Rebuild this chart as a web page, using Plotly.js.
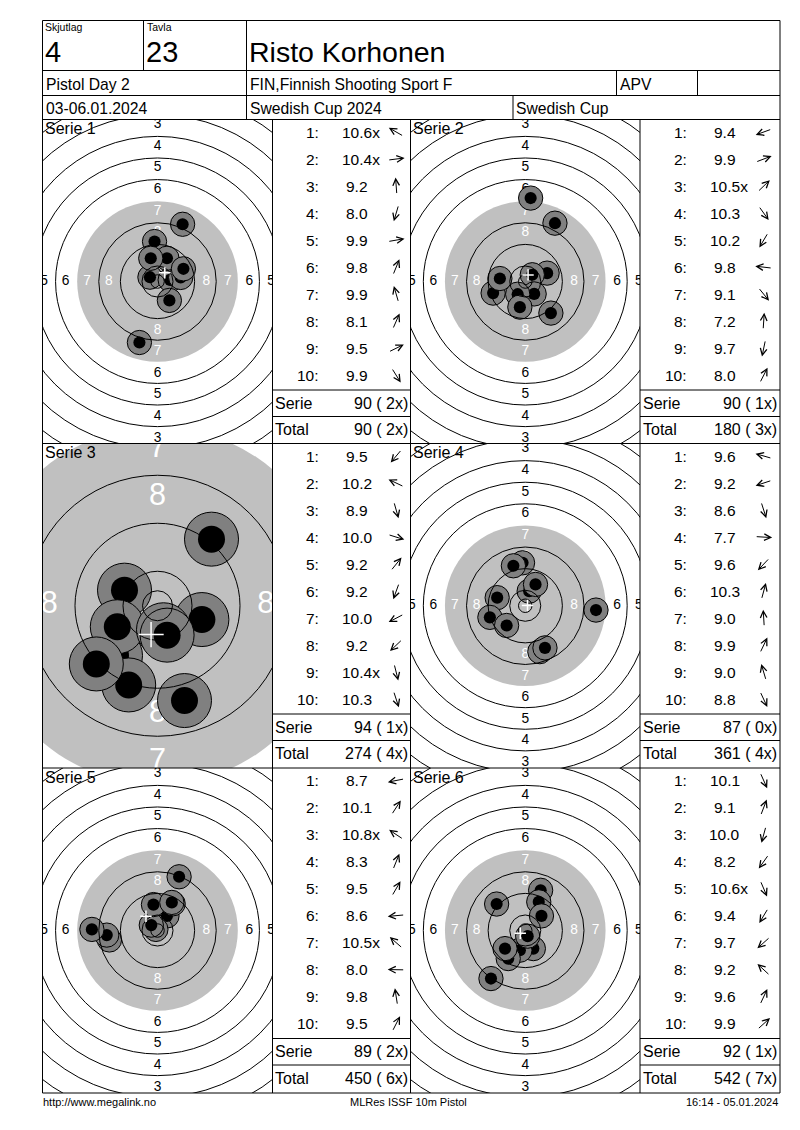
<!DOCTYPE html>
<html><head><meta charset="utf-8">
<script src="https://cdn.plot.ly/plotly-3.0.1.min.js"></script>
<style>html,body{margin:0;padding:0;background:#fff;}#chart{width:800px;height:1130px;}</style>
</head><body><div id="chart"></div>
<script>
// ---------- header texts ----------
const hdrLabels = ['Skjutlag', 'Tavla'];
const hdrValues = ['4', '23'];
const shooterName = 'Risto Korhonen';
const eventName = 'Pistol Day 2';
const clubName = 'FIN,Finnish Shooting Sport F';
const classCode = 'APV';
const dateText = '03-06.01.2024';
const competition = 'Swedish Cup 2024';
const cupName = 'Swedish Cup';
const footerTexts = ['http://www.megalink.no', 'MLRes ISSF 10m Pistol', '16:14 - 05.01.2024'];
const serieNames = ['Serie 1', 'Serie 2', 'Serie 3', 'Serie 4', 'Serie 5', 'Serie 6'];

// ---------- shot data (score, inner ten flag, position in mm from centre) ----------
const s1Scores = [10.6, 10.4, 9.2, 8.0, 9.9, 9.8, 9.9, 8.1, 9.5, 9.9];
const s1Inner  = [1, 1, 0, 0, 0, 0, 0, 0, 0, 0];
const s1X = [-2.8, 4.7, -1.1, -6.7, 8.6, 3.5, -2.5, 9.3, 9.6, 4.4];
const s1Y = [1.6, 0.6, 14.8, -22.6, 1.5, 8.6, 8.6, 21.2, 4.7, -7.0];

const s2Scores = [9.4, 9.9, 10.5, 10.3, 10.2, 9.8, 9.1, 7.2, 9.7, 8.0];
const s2Inner  = [0, 0, 1, 0, 0, 0, 0, 0, 0, 0];
const s2X = [-11.9, 8.1, 2.6, 3.3, -2.8, -9.4, 9.5, 2.0, -2.0, 11.0];
const s2Y = [-4.3, 3.1, 2.5, -4.6, -4.7, 1.1, -11.7, 30.9, -9.5, 21.6];

const s3Scores = [9.5, 10.2, 8.9, 10.0, 9.2, 9.2, 10.0, 9.2, 10.4, 10.3];
const s3Inner  = [0, 0, 0, 0, 0, 0, 0, 0, 1, 0];
const s3X = [-7.0, -5.5, 4.5, 7.4, 9.0, -4.8, -6.7, -10.2, 1.0, 1.6];
const s3Y = [-8.3, 2.6, -15.8, -2.3, 11.1, -13.2, -3.5, -9.7, -4.0, -4.9];

const s4Scores = [9.6, 9.2, 8.6, 7.7, 9.6, 10.3, 9.0, 9.9, 9.0, 8.8];
const s4Inner  = [0, 0, 0, 0, 0, 0, 0, 0, 0, 0];
const s4X = [-10.4, -13.1, 5.4, 26.2, -6.9, 1.45, -1.0, 3.8, -4.4, 7.3];
const s4Y = [3.0, -4.3, -17.0, -1.6, -7.3, 5.4, 15.9, 7.9, 14.8, -15.6];

const s5Scores = [8.7, 10.1, 10.8, 8.3, 9.5, 8.6, 10.5, 8.0, 9.8, 9.5];
const s5Inner  = [0, 0, 1, 0, 0, 0, 1, 0, 0, 0];
const s5X = [-17.8, 3.5, -0.6, 8.0, 5.8, -18.8, -2.3, -24.3, -1.5, 5.3];
const s5Y = [-3.5, 5.4, 0.4, 19.9, 9.9, -1.7, 2.0, 0.4, 9.6, 10.4];

const s6Scores = [10.1, 9.1, 10.0, 8.2, 10.6, 9.4, 9.7, 9.2, 9.6, 9.9];
const s6Inner  = [0, 0, 0, 0, 1, 0, 0, 0, 0, 0];
const s6X = [3.0, 5.7, -2.0, -12.7, 0.9, -6.3, -7.5, -10.6, 5.0, 6.0];
const s6Y = [-6.7, 14.9, -7.3, -17.8, -2.1, -10.4, -6.7, 9.8, 10.6, 5.4];

const seriesScores = [s1Scores, s2Scores, s3Scores, s4Scores, s5Scores, s6Scores];
const seriesInner = [s1Inner, s2Inner, s3Inner, s4Inner, s5Inner, s6Inner];
const seriesX = [s1X, s2X, s3X, s4X, s5X, s6X];
const seriesY = [s1Y, s2Y, s3Y, s4Y, s5Y, s6Y];

// ---------- target geometry (ISSF 10m air pistol, mm) ----------
const ringOuter = [77.75, 69.75, 61.75, 53.75, 45.75, 37.75, 29.75, 21.75, 13.75, 5.75];
const innerTen = 2.5;
const blackR = 29.75;

// ---------- page layout (px) ----------
const W = 800, H = 1130;
const FONT = '"Liberation Sans", Arial, sans-serif';
const PX = x => x / W, PY = y => 1 - y / H;
const rowTop = [119.5, 443.5, 768];
const rowBot = [443.5, 768, 1093];
const panelX = [[42.5, 272.5], [410.5, 640]];
const tableX = [[272.5, 410.5], [640, 780]];
const pxPerMm = [2.7, 2.7, 6.0, 2.7, 2.7, 2.7];

const data = [], shapes = [], annotations = [];
const layout = {
  width: W, height: H, margin: {l: 0, r: 0, t: 0, b: 0}, autosize: false,
  paper_bgcolor: '#fff', plot_bgcolor: '#fff', showlegend: false, hovermode: false,
  font: {family: FONT, color: '#000'}
};

function hline(y, x0, x1) { shapes.push({type: 'line', xref: 'paper', yref: 'paper', x0: PX(x0), x1: PX(x1), y0: PY(y), y1: PY(y), line: {color: '#000', width: 1}, layer: 'above'}); }
function vline(x, y0, y1) { shapes.push({type: 'line', xref: 'paper', yref: 'paper', x0: PX(x), x1: PX(x), y0: PY(y0), y1: PY(y1), line: {color: '#000', width: 1}, layer: 'above'}); }
function txt(t, x, y, size, xanchor, extra) {
  annotations.push(Object.assign({text: t, x: PX(x), y: PY(y), xref: 'paper', yref: 'paper', showarrow: false,
    xanchor: xanchor || 'left', yanchor: 'middle', font: {family: FONT, size: size, color: '#000'}, borderpad: 0}, extra || {}));
}

// ---------- frame ----------
[20.5, 70.5, 95.5, 119.5, 443.5, 768, 1093].forEach(y => hline(y, 42.5, 780));
vline(42.5, 20.5, 1093); vline(780, 20.5, 1093);
vline(143.5, 20.5, 70.5); vline(246.5, 20.5, 119.5);
vline(616.5, 70.5, 95.5); vline(697.5, 70.5, 95.5); vline(513, 95.5, 119.5);
vline(272.5, 119.5, 1093); vline(410.5, 119.5, 1093); vline(640, 119.5, 1093);

// ---------- header ----------
txt(hdrLabels[0], 44, 27.5, 10.5); txt(hdrLabels[1], 145.5, 27.5, 10.5);
txt(hdrValues[0], 43.5, 52, 29); txt(hdrValues[1], 145, 52, 29);
txt(shooterName, 248, 52, 28.5);
txt(eventName, 44.5, 84, 15.7); txt(clubName, 248.5, 84, 15.7); txt(classCode, 618.5, 84, 15.7);
txt(dateText, 44.5, 108.5, 15.7); txt(competition, 248.5, 108.5, 15.7); txt(cupName, 515, 108.5, 15.7);

// ---------- footer ----------
txt(footerTexts[0], 42, 1102, 11); txt(footerTexts[1], 408, 1102, 11, 'center'); txt(footerTexts[2], 779, 1102, 11, 'right');

// ---------- series ----------
let runSum = 0, runX = 0;
for (let k = 0; k < 6; k++) {
  const row = Math.floor(k / 2), col = k % 2;
  const s = pxPerMm[k];
  const [x0, x1] = panelX[col];
  const yt = rowTop[row], yb = rowBot[row];
  const hw = (x1 - x0) / 2 / s, hh = (yb - yt) / 2 / s;
  const sfx = k ? String(k + 1) : '';
  const xa = 'x' + sfx, ya = 'y' + sfx;
  layout['xaxis' + sfx] = {domain: [PX(x0), PX(x1)], range: [-hw, hw], visible: false, fixedrange: true, anchor: ya};
  layout['yaxis' + sfx] = {domain: [PY(yb), PY(yt)], range: [-hh, hh], visible: false, fixedrange: true, anchor: xa};

  // black (gray) aiming area
  shapes.push({type: 'circle', xref: xa, yref: ya, x0: -blackR, x1: blackR, y0: -blackR, y1: blackR,
    fillcolor: '#c0c0c0', line: {width: 0}, layer: 'below'});

  // ring numbers (only those that fall on the visible panel)
  const lx = [], ly = [], lt = [], lc = [];
  for (let n = 1; n <= 8; n++) {
    const d = ringOuter[n - 1] - 3.7;
    const c = n >= 7 ? '#ffffff' : '#000000';
    [[0, d], [0, -d], [-d, 0], [d, 0]].forEach(p => {
      if (Math.abs(p[0]) <= hw + 1.5 && Math.abs(p[1]) <= hh + 1.5) {
        lx.push(p[0]); ly.push(p[1]); lt.push(String(n)); lc.push(c);
      }
    });
  }
  data.push({type: 'scatter', mode: 'text', xaxis: xa, yaxis: ya, x: lx, y: ly, text: lt,
    textposition: 'middle center', textfont: {family: FONT, size: 5.1 * s, color: lc}, cliponaxis: true, hoverinfo: 'skip'});

  // shots: halo then hole, in shot order
  const X = seriesX[k], Y = seriesY[k], SC = seriesScores[k], IN = seriesInner[k];
  const mx = [], my = [], ms = [], mc = [], mw = [];
  for (let i = 0; i < X.length; i++) {
    mx.push(X[i], X[i]); my.push(Y[i], Y[i]);
    ms.push(9 * s, 4.5 * s); mc.push('#808080', '#000000'); mw.push(1, 0);
  }
  data.push({type: 'scatter', mode: 'markers', xaxis: xa, yaxis: ya, x: mx, y: my,
    marker: {size: ms, sizemode: 'diameter', opacity: 1, color: mc, line: {color: '#000', width: mw}},
    cliponaxis: true, hoverinfo: 'skip'});

  // ring lines
  const radii = ringOuter.filter(r => r !== blackR).concat([innerTen]);
  radii.forEach(r => shapes.push({type: 'circle', xref: xa, yref: ya, x0: -r, x1: r, y0: -r, y1: r,
    line: {color: '#000', width: 1}, fillcolor: 'rgba(0,0,0,0)', layer: 'above'}));

  // mean point of impact cross
  const mpx = X.reduce((a, b) => a + b, 0) / X.length, mpy = Y.reduce((a, b) => a + b, 0) / Y.length;
  const arm = 2.1;
  shapes.push({type: 'line', xref: xa, yref: ya, x0: mpx - arm, x1: mpx + arm, y0: mpy, y1: mpy, line: {color: '#fff', width: 1.5}, layer: 'above'});
  shapes.push({type: 'line', xref: xa, yref: ya, x0: mpx, x1: mpx, y0: mpy - arm, y1: mpy + arm, line: {color: '#fff', width: 1.5}, layer: 'above'});

  // panel label
  txt(serieNames[k], x0 + 1, yt + 9, 16);

  // score table
  const [tx0, tx1] = tableX[col];
  hline(yt + 270.5, tx0, tx1); hline(yt + 297, tx0, tx1);
  for (let i = 0; i < SC.length; i++) {
    const cy = yt + 12.5 + 27.03 * i;
    txt((i + 1) + ':', tx0 + 47.5, cy, 15.5, 'right');
    txt(SC[i].toFixed(1) + (IN[i] ? 'x' : ''), tx0 + 84.7 + (IN[i] ? 4 : 0), cy, 15.5, 'center');
    const th = Math.atan2(Y[i], X[i]);
    const L = 17, acx = tx0 + 123.7;
    const hx = acx + L / 2 * Math.cos(th), hy = cy - L / 2 * Math.sin(th);
    annotations.push({x: PX(hx), y: PY(hy), xref: 'paper', yref: 'paper', text: '', showarrow: true,
      ax: -L * Math.cos(th), ay: L * Math.sin(th), arrowhead: 5, arrowsize: 1.3, arrowwidth: 1,
      arrowcolor: '#000', standoff: 0, startstandoff: 0, font: {size: 1}});
  }
  const serSum = SC.reduce((a, v) => a + Math.floor(v + 1e-9), 0);
  const serX = IN.reduce((a, v) => a + v, 0);
  runSum += serSum; runX += serX;
  const fmt = (a, b) => a + ' (' + String(b).padStart(2, ' ') + 'x)';
  txt('Serie', tx0 + 1.5, yt + 283.5, 16);
  txt(fmt(serSum, serX), tx1 - 2, yt + 283.5, 16, 'right');
  txt('Total', tx0 + 1.5, yt + 310, 16);
  txt(fmt(runSum, runX), tx1 - 2, yt + 310, 16, 'right');
}

layout.shapes = shapes;
layout.annotations = annotations;
Plotly.newPlot('chart', data, layout, {staticPlot: true, displayModeBar: false});
</script></body></html>
